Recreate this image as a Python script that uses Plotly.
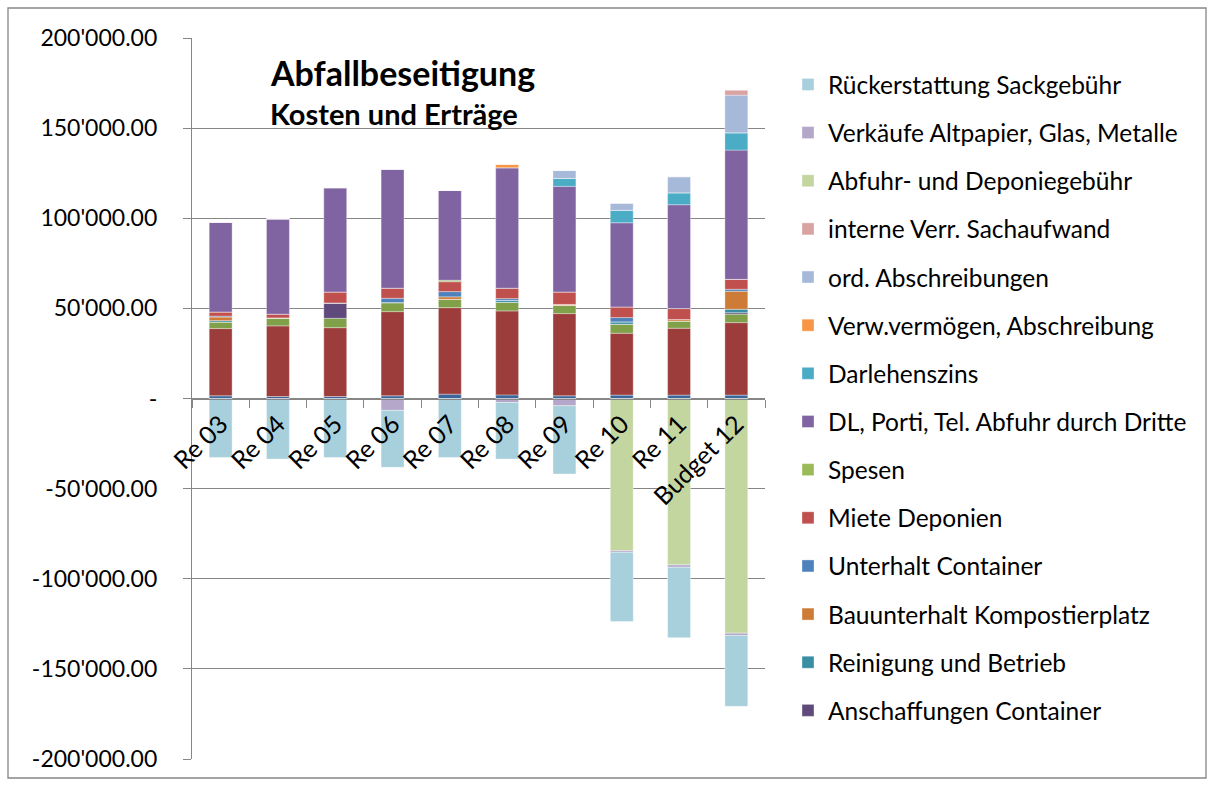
import plotly.graph_objects as go

categories = ["Re 03", "Re 04", "Re 05", "Re 06", "Re 07", "Re 08", "Re 09", "Re 10", "Re 11", "Budget 12"]

# series in stacking order (bottom first); first three are not shown in the legend
weitere_kosten_1 = [1500, 1100, 1100, 1500, 2400, 2000, 1500, 1900, 1900, 1900]
weitere_kosten_2 = [37300, 39200, 38200, 46700, 48000, 46600, 45600, 34300, 37100, 40200]
weitere_kosten_3 = [3600, 4400, 5200, 5000, 4600, 4800, 4600, 5000, 4000, 4700]
anschaffungen_container = [0, 0, 8500, 0, 0, 0, 0, 0, 0, 800]
reinigung_betrieb = [800, 0, 0, 0, 0, 1000, 0, 1300, 0, 1900]
bauunterhalt_kompost = [2000, 0, 0, 0, 1400, 0, 500, 0, 800, 10000]
unterhalt_container = [500, 0, 0, 2400, 2900, 1000, 0, 2400, 0, 1100]
miete_deponien = [2300, 2100, 6100, 5600, 5500, 5800, 6900, 5900, 6100, 5500]
spesen = [0, 0, 0, 0, 800, 0, 0, 0, 0, 0]
dl_porti = [49900, 52900, 57900, 66100, 50000, 66800, 58600, 46700, 57600, 71700]
darlehenszins = [0, 0, 0, 0, 0, 0, 4400, 6900, 6600, 9600]
verw_vermoegen = [0, 0, 0, 0, 0, 2000, 0, 0, 0, 0]
ord_abschreibungen = [0, 0, 0, 0, 0, 0, 4400, 3900, 8900, 20900]
interne_verr = [0, 0, 0, 0, 0, 0, 0, 0, 0, 2700]
abfuhr_deponiegebuehr = [0, 0, 0, 0, 0, 0, 0, -84400, -92300, -130200]
verkaeufe_altpapier = [0, -500, 0, -6600, 0, -2200, -4000, -900, -1300, -1300]
rueckerstattung_sack = [-32700, -33100, -32700, -31600, -32700, -31400, -37900, -38400, -39100, -39300]

y_tick_values = [-200000, -150000, -100000, -50000, 0, 50000, 100000, 150000, 200000]
y_tick_labels = ["-200'000.00", "-150'000.00", "-100'000.00", "-50'000.00", "-",
                 "50'000.00", "100'000.00", "150'000.00", "200'000.00"]

series = [
    ("Weitere Kosten 1", weitere_kosten_1, "#3D679C", False),
    ("Weitere Kosten 2", weitere_kosten_2, "#9C3D3B", False),
    ("Weitere Kosten 3", weitere_kosten_3, "#80A04A", False),
    ("Anschaffungen Container", anschaffungen_container, "#604A7B", True),
    ("Reinigung und Betrieb", reinigung_betrieb, "#3A8EA4", True),
    ("Bauunterhalt Kompostierplatz", bauunterhalt_kompost, "#CF7B38", True),
    ("Unterhalt Container", unterhalt_container, "#4F81BD", True),
    ("Miete Deponien", miete_deponien, "#C0504D", True),
    ("Spesen", spesen, "#9BBB59", True),
    ("DL, Porti, Tel. Abfuhr durch Dritte", dl_porti, "#8064A2", True),
    ("Darlehenszins", darlehenszins, "#4BACC6", True),
    ("Verw.vermögen, Abschreibung", verw_vermoegen, "#F79646", True),
    ("ord. Abschreibungen", ord_abschreibungen, "#A7B9D9", True),
    ("interne Verr. Sachaufwand", interne_verr, "#D9A3A2", True),
    ("Abfuhr- und Deponiegebühr", abfuhr_deponiegebuehr, "#C4D6A0", True),
    ("Verkäufe Altpapier, Glas, Metalle", verkaeufe_altpapier, "#B5A7C9", True),
    ("Rückerstattung Sackgebühr", rueckerstattung_sack, "#A8D0DC", True),
]

fig = go.Figure()
n = len(series)
for i, (name, vals, color, show) in enumerate(series):
    fig.add_trace(go.Bar(
        x=categories, y=vals, name=name, showlegend=show, legendgroup=name,
        legendrank=n - i,
        marker=dict(color=color, line=dict(color="rgba(255,255,255,0.35)", width=1)),
    ))

W, H = 1214, 785
L, R, T, B = 192, 449, 38, 26
pw, ph = W - L - R, H - T - B

def px(xp):
    return (xp - L) / pw

def py(yp):
    return (H - B - yp) / ph

grid = "#868686"
font = "Lato, 'Open Sans', sans-serif"

fig.update_layout(
    width=W, height=H, autosize=False,
    margin=dict(l=L, r=R, t=T, b=B, pad=0, autoexpand=False),
    barmode="relative", bargap=0.6,
    plot_bgcolor="white", paper_bgcolor="white",
    font=dict(family=font, size=23, color="black"),
    showlegend=True,
    legend=dict(
        x=px(788), xanchor="left", y=py(62), yanchor="top",
        traceorder="grouped", tracegroupgap=13.3,
        font=dict(family=font, size=24.5, color="black"),
        bgcolor="rgba(0,0,0,0)",
    ),
    xaxis=dict(
        type="category", anchor="free", position=0.5,
        showline=True, linecolor=grid, linewidth=1.3,
        tickson="boundaries", ticks="outside", ticklen=8, tickcolor=grid, tickwidth=1.3,
        tickangle=-45, showgrid=False,
        tickfont=dict(family=font, size=25, color="black"),
    ),
    yaxis=dict(
        range=[-200000, 200000], tickvals=y_tick_values, ticktext=y_tick_labels,
        showgrid=True, gridcolor=grid, gridwidth=1.3,
        showline=True, linecolor=grid, linewidth=1.3,
        ticks="outside", ticklen=8, tickcolor=grid, tickwidth=1.3,
        zeroline=False, ticklabelstandoff=21,
        tickfont=dict(family=font, size=23, color="black"),
    ),
    annotations=[
        dict(text="<b>Abfallbeseitigung</b>", x=px(268), y=py(73), xref="paper", yref="paper",
             xanchor="left", yanchor="middle", showarrow=False,
             font=dict(family=font, size=34, color="black")),
        dict(text="<b>Kosten und Erträge</b>", x=px(268), y=py(114), xref="paper", yref="paper",
             xanchor="left", yanchor="middle", showarrow=False,
             font=dict(family=font, size=29, color="black")),
    ],
    shapes=[
        dict(type="rect", xref="paper", yref="paper",
             x0=px(8), x1=px(1206), y0=py(778), y1=py(8),
             line=dict(color=grid, width=1.3), fillcolor="rgba(0,0,0,0)", layer="below"),
    ],
)

fig.write_html("out.html", config={"displayModeBar": False},
               post_script="document.body.style.margin='0';")
